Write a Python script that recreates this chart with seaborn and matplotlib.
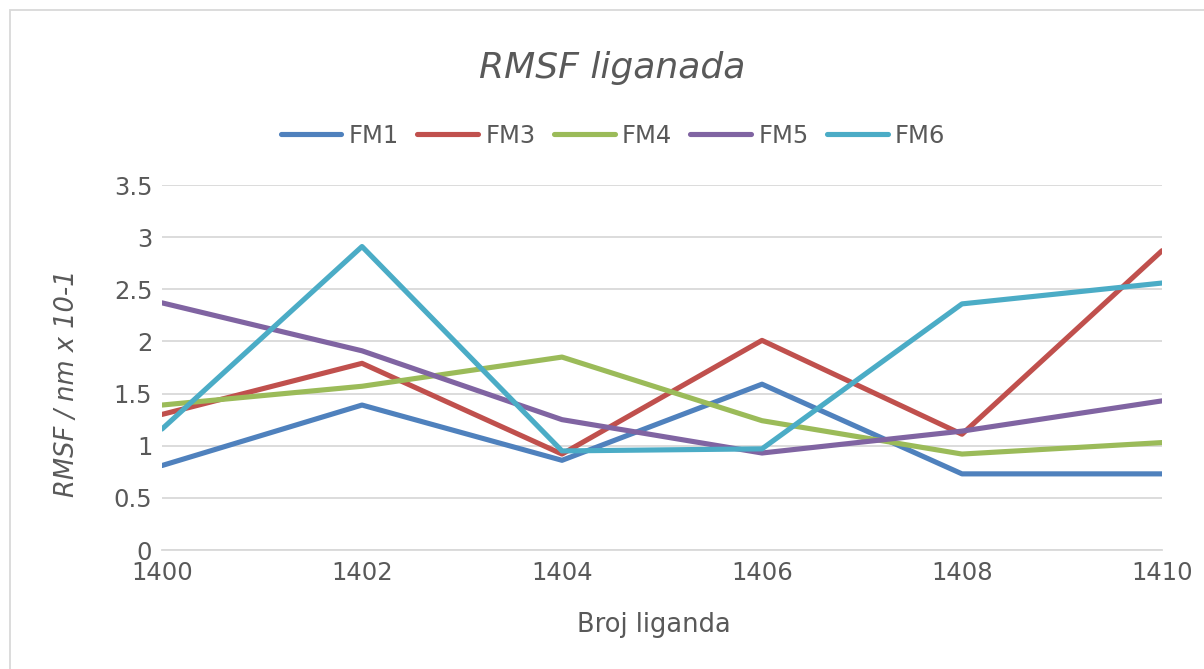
import pandas as pd
import matplotlib.pyplot as plt
from matplotlib.patches import Rectangle
import seaborn as sns

# data
ligand = [1400, 1402, 1404, 1406, 1408, 1410]
fm1 = [0.81, 1.39, 0.86, 1.59, 0.73, 0.73]
fm3 = [1.30, 1.79, 0.92, 2.01, 1.11, 2.87]
fm4 = [1.39, 1.57, 1.85, 1.24, 0.92, 1.03]
fm5 = [2.37, 1.91, 1.25, 0.93, 1.14, 1.43]
fm6 = [1.16, 2.91, 0.95, 0.97, 2.36, 2.56]
series = ['FM1', 'FM3', 'FM4', 'FM5', 'FM6']
colors = ['#4F81BD', '#C0504D', '#9BBB59', '#8064A2', '#4BACC6']

frames = []
for name, vals in zip(series, [fm1, fm3, fm4, fm5, fm6]):
    frames.append(pd.DataFrame({'ligand': ligand, 'rmsf': vals, 'serija': name}))
df = pd.concat(frames, ignore_index=True)

sns.set_style('white')
plt.rcParams['font.family'] = ['DejaVu Sans']
txt = '#595959'

fig = plt.figure(figsize=(12.04, 6.69), dpi=100)
ax = fig.add_axes([162 / 1204, 1 - 550 / 669, 1000 / 1204, 365 / 669])

sns.lineplot(data=df, x='ligand', y='rmsf', hue='serija', palette=colors,
             linewidth=3.7, ax=ax, legend=True)

ax.set_xlim(1400, 1410)
ax.set_ylim(0, 3.5)
ax.set_xticks(ligand)
ax.set_yticks([0, 0.5, 1, 1.5, 2, 2.5, 3, 3.5])
ax.set_yticklabels(['0', '0.5', '1', '1.5', '2', '2.5', '3', '3.5'])
ax.yaxis.grid(True, color='#d9d9d9', linewidth=1.3)
ax.set_axisbelow(True)
for s in ['top', 'right', 'left']:
    ax.spines[s].set_visible(False)
ax.spines['bottom'].set_color('#d9d9d9')
ax.spines['bottom'].set_linewidth(1.3)
ax.tick_params(axis='both', length=0, labelsize=17.5, colors=txt)
ax.tick_params(axis='y', pad=7)
ax.tick_params(axis='x', pad=8)

ax.set_xlabel('Broj liganda', fontsize=18.5, color=txt)
ax.xaxis.set_label_coords((654 - 162) / 1000, (550 - 612) / 365)
ax.set_ylabel('RMSF / nm x 10-1', fontsize=18.5, color=txt, style='italic')
ax.yaxis.set_label_coords((80 - 162) / 1000, (550 - 383) / 365)

ax.legend(ncol=5, frameon=False, fontsize=17.5, handlelength=2.5, columnspacing=0.75,
          handletextpad=0.3, labelcolor=txt, loc='center',
          bbox_to_anchor=((613 - 162) / 1000, (550 - 136) / 365))

fig.text(612.5 / 1204, 1 - 78 / 669, 'RMSF liganada', fontsize=26, style='italic',
         color=txt, ha='center', va='baseline')

fig.patches.append(Rectangle((10 / 1204, -0.01), 1.0, 1 - 10 / 669 + 0.01,
                             transform=fig.transFigure, fill=False,
                             edgecolor='#d9d9d9', linewidth=1.3))

plt.savefig('out.png', dpi=100)
